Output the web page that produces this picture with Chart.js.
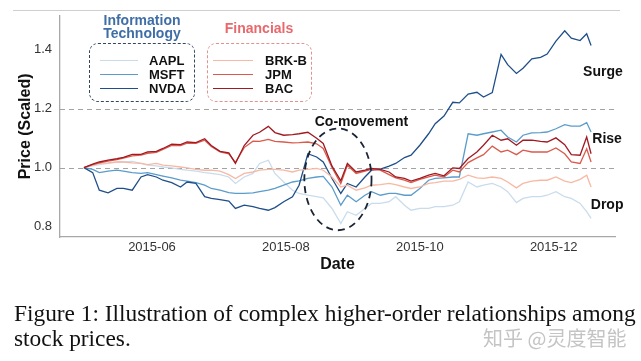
<!DOCTYPE html>
<html><head><meta charset="utf-8">
<script src="https://cdn.jsdelivr.net/npm/chart.js@4.4.1/dist/chart.umd.min.js"></script>
<style>
html,body{margin:0;padding:0;background:#fff;}
#wrap{position:relative;width:641px;height:361px;overflow:hidden;background:#fff;font-family:"Liberation Sans",Arial,sans-serif;}
#c{position:absolute;left:0;top:0;}
.abs{position:absolute;white-space:nowrap;}
#topline{position:absolute;left:13px;top:10px;width:607px;height:0;border-top:1px solid #cfcfcf;}
.box{position:absolute;border-radius:9px;box-sizing:border-box;}
.gtitle{position:absolute;font-weight:bold;font-size:14px;line-height:13px;text-align:center;transform:translate(-50%,-50%);}
.lab{position:absolute;font-weight:bold;font-size:13px;color:#111;transform:translateY(-50%);}
.swatch{position:absolute;height:0;}
.cap{position:absolute;left:14px;font-family:"Liberation Serif","Times New Roman",serif;font-size:23px;color:#111;white-space:nowrap;line-height:26px;transform:translateY(-50%);}
#wm{position:absolute;left:483px;top:338px;transform:translateY(-50%);font-family:"Noto Sans CJK SC",sans-serif;font-size:20px;color:#c4c4c4;white-space:nowrap;line-height:24px;}
</style></head><body>
<div id="wrap">
<canvas id="c" width="641" height="361"></canvas>
<div id="topline"></div>
<div id="legend"></div>
<div class="cap" id="cap1" style="top:313px">Figure 1: Illustration of complex higher-order relationships among</div>
<div class="cap" id="cap2" style="top:338px">stock prices.</div>
<div id="wm">知乎 @灵度智能</div>
</div>
<script>
// ---------------- data ----------------
const dates = ['2015-05-01','2015-05-05','2015-05-08','2015-05-12','2015-05-16','2015-05-19','2015-05-23','2015-05-27','2015-05-30',
 '2015-06-03','2015-06-06','2015-06-10','2015-06-14','2015-06-17','2015-06-21','2015-06-25','2015-06-28',
 '2015-07-02','2015-07-06','2015-07-09','2015-07-13','2015-07-17','2015-07-20','2015-07-24','2015-07-27','2015-07-31',
 '2015-08-04','2015-08-07','2015-08-11','2015-08-15','2015-08-18','2015-08-22','2015-08-26','2015-08-29',
 '2015-09-02','2015-09-06','2015-09-09','2015-09-13','2015-09-17','2015-09-20','2015-09-24','2015-09-27',
 '2015-10-01','2015-10-05','2015-10-08','2015-10-12','2015-10-16','2015-10-19','2015-10-23','2015-10-27','2015-10-30',
 '2015-11-03','2015-11-07','2015-11-10','2015-11-14','2015-11-17','2015-11-21','2015-11-25','2015-11-28',
 '2015-12-02','2015-12-06','2015-12-09','2015-12-13','2015-12-16','2015-12-18'];

const AAPL = [1.000,1.006,1.010,1.014,1.019,1.019,1.021,1.014,1.008,1.006,
 1.002,0.999,0.994,0.991,0.988,0.983,0.980,0.976,0.968,0.946,
 0.968,0.980,1.014,1.025,0.980,0.951,0.923,0.912,0.906,0.901,
 0.897,0.861,0.810,0.850,0.838,0.861,0.878,0.878,0.884,0.901,
 0.872,0.855,0.861,0.861,0.867,0.867,0.872,0.884,0.951,0.934,
 0.940,0.946,0.934,0.918,0.881,0.895,0.901,0.901,0.906,0.918,
 0.901,0.895,0.878,0.850,0.827];

const MSFT = [1.000,0.994,0.983,0.988,0.991,0.988,0.983,0.980,0.983,0.976,
 0.971,0.965,0.957,0.954,0.949,0.940,0.929,0.923,0.915,0.912,
 0.912,0.914,0.918,0.923,0.929,0.940,0.951,0.955,0.963,0.968,
 0.970,0.934,0.872,0.906,0.884,0.906,0.918,0.906,0.912,0.912,
 0.906,0.906,0.929,0.957,0.963,0.965,0.968,0.968,1.115,1.110,
 1.115,1.121,1.127,1.104,1.087,1.110,1.118,1.119,1.121,1.132,
 1.146,1.141,1.141,1.153,1.121];

const NVDA = [1.000,0.983,0.923,0.914,0.929,0.929,0.923,0.968,0.976,0.968,
 0.957,0.949,0.934,0.951,0.946,0.901,0.895,0.891,0.886,0.861,
 0.872,0.867,0.861,0.855,0.864,0.884,0.901,0.940,1.047,1.036,
 1.019,0.963,0.912,0.946,0.934,0.968,0.991,0.995,1.005,1.014,
 1.034,1.042,1.076,1.115,1.149,1.175,1.222,1.220,1.250,1.256,
 1.240,1.255,1.385,1.350,1.320,1.338,1.370,1.375,1.386,1.430,
 1.465,1.440,1.432,1.455,1.415];

const BRKB = [1.000,1.008,1.014,1.016,1.019,1.019,1.016,1.014,1.010,1.014,
 1.008,1.006,1.002,0.999,0.994,0.991,0.991,0.988,0.976,0.963,
 0.980,0.985,0.991,0.994,0.994,0.991,0.985,0.991,0.994,0.997,
 0.991,0.968,0.934,0.940,0.923,0.931,0.940,0.942,0.946,0.942,
 0.934,0.929,0.934,0.946,0.949,0.954,0.954,0.960,0.974,0.965,
 0.963,0.968,0.963,0.951,0.931,0.946,0.954,0.957,0.957,0.968,
 0.954,0.949,0.960,0.974,0.934];

const JPM = [1.000,1.010,1.016,1.022,1.027,1.032,1.040,1.042,1.048,1.052,
 1.062,1.075,1.075,1.083,1.082,1.093,1.072,1.053,1.047,1.018,
 1.068,1.090,1.089,1.096,1.089,1.087,1.084,1.085,1.087,1.081,
 1.065,1.000,0.945,1.008,0.980,0.988,0.994,0.991,0.976,0.965,
 0.957,0.949,0.960,0.968,0.974,0.968,0.991,0.985,1.017,1.033,
 1.044,1.073,1.053,1.059,1.044,1.059,1.053,1.053,1.053,1.067,
 1.047,1.019,1.014,1.064,1.019];

const BAC = [1.000,1.012,1.019,1.025,1.030,1.035,1.045,1.045,1.053,1.055,
 1.065,1.080,1.078,1.087,1.085,1.098,1.075,1.055,1.050,1.014,
 1.075,1.110,1.120,1.140,1.119,1.110,1.112,1.115,1.120,1.100,
 1.082,1.005,0.955,1.014,0.985,0.991,0.997,0.994,0.985,0.968,
 0.963,0.954,0.963,0.974,0.980,0.972,0.999,0.997,1.031,1.053,
 1.076,1.110,1.093,1.098,1.076,1.093,1.093,1.089,1.087,1.101,
 1.078,1.044,1.042,1.104,1.047];

const xTickDates = ['2015-06-01','2015-08-01','2015-10-01','2015-12-01'];
const xTickLabels = ['2015-06','2015-08','2015-10','2015-12'];
const yTickValues = [0.8, 1.0, 1.2, 1.4];
const refLines = [1.0, 1.2];

const groups = [
  {title:['Information','Technology'], color:'#3f6ea6', border:'#34465e', names:['AAPL','MSFT','NVDA'], colors:['#c9dcec','#5b9ccb','#1f4f8a']},
  {title:['Financials'], color:'#e8686b', border:'#e39090', names:['BRK-B','JPM','BAC'], colors:['#f7b9a3','#db5a4c','#a01a22']}
];
const seriesData = {AAPL, MSFT, NVDA, 'BRK-B': BRKB, JPM, BAC};

// ---------------- helpers ----------------
const T0 = Date.UTC(2015,4,1);
function dayOf(s){const p=s.split('-').map(Number);return (Date.UTC(p[0],p[1]-1,p[2])-T0)/86400000;}
const xs = dates.map(dayOf);
const xTicks = xTickDates.map(dayOf);

const order = {AAPL:5, MSFT:4, NVDA:3, 'BRK-B':2, JPM:1, BAC:0};
const datasets = [];
groups.forEach(g => g.names.forEach((n,i) => {
  datasets.push({label:n, data: seriesData[n].map((v,k)=>({x:xs[k], y:v})),
    borderColor:g.colors[i], borderWidth:1.3, pointRadius:0, tension:0, fill:false, order:order[n]});
}));

// annotations (data coordinates: x = days since 2015-05-01)
const labelsAnn = [
  {text:'Surge', x:236.4, y:1.326},
  {text:'Rise', x:238.3, y:1.096},
  {text:'Drop', x:238.3, y:0.872},
  {text:'Co-movement', x:126.4, y:1.155}
];
const comoveEllipse = {x:115.7, y:0.960, rx:15.3, ry:0.173};

const annPlugin = {
  id:'ann',
  beforeDatasetsDraw(chart){
    const {ctx, chartArea:a, scales:{x,y}} = chart;
    ctx.save();
    ctx.strokeStyle = '#a3a3a3'; ctx.lineWidth = 1; ctx.setLineDash([5,4]);
    refLines.forEach(v => { const py = Math.round(y.getPixelForValue(v))+0.5;
      ctx.beginPath(); ctx.moveTo(a.left, py); ctx.lineTo(a.right, py); ctx.stroke(); });
    ctx.restore();
  },
  afterDraw(chart){
    const {ctx, scales:{x,y}} = chart;
    ctx.save();
    const cx = x.getPixelForValue(comoveEllipse.x), cy = y.getPixelForValue(comoveEllipse.y);
    const rx = x.getPixelForValue(comoveEllipse.x+comoveEllipse.rx) - cx;
    const ry = cy - y.getPixelForValue(comoveEllipse.y+comoveEllipse.ry);
    ctx.strokeStyle = '#1b2435'; ctx.lineWidth = 1.8; ctx.setLineDash([7,5]);
    ctx.beginPath(); ctx.ellipse(cx, cy, rx, ry, 0, 0, Math.PI*2); ctx.stroke();
    ctx.setLineDash([]);
    ctx.fillStyle = '#111'; ctx.font = 'bold 14px "Liberation Sans", Arial, sans-serif';
    ctx.textAlign = 'center'; ctx.textBaseline = 'middle';
    labelsAnn.forEach(l => ctx.fillText(l.text, x.getPixelForValue(l.x), y.getPixelForValue(l.y)));
    ctx.restore();
  }
};

new Chart(document.getElementById('c'), {
  type:'line',
  data:{datasets},
  options:{
    responsive:false, animation:false, devicePixelRatio:1,
    layout:{padding:{left:0, right:26, top:15, bottom:84}},
    plugins:{legend:{display:false}, tooltip:{enabled:false}},
    scales:{
      x:{type:'linear', min:-10.9, max:241.9,
        grid:{display:false, drawTicks:false},
        border:{display:true, color:'#a8a8a8', width:1.3},
        afterBuildTicks(s){ s.ticks = xTicks.map(v=>({value:v})); },
        afterFit(s){ s.height = 40; },
        ticks:{autoSkip:false, maxRotation:0, padding:3, color:'#333', font:{family:'"Liberation Sans", Arial, sans-serif', size:13},
          callback:(v)=>{ const i = xTicks.indexOf(v); return i>=0 ? xTickLabels[i] : ''; }},
        title:{display:true, text:'Date', color:'#111', font:{family:'"Liberation Sans", Arial, sans-serif', size:16, weight:'bold'}, padding:{top:0,bottom:3}}
      },
      y:{type:'linear', min:0.764, max:1.516,
        grid:{display:false, drawTicks:false},
        border:{display:true, color:'#a8a8a8', width:1.3},
        afterBuildTicks(s){ s.ticks = yTickValues.map(v=>({value:v})); },
        afterFit(s){ s.width = 60; },
        ticks:{padding:8, color:'#333', font:{family:'"Liberation Sans", Arial, sans-serif', size:13},
          callback:(v)=>Number(v).toFixed(1)},
        title:{display:true, text:'Price (Scaled)', color:'#111', font:{family:'"Liberation Sans", Arial, sans-serif', size:16, weight:'bold'}, padding:16}
      }
    }
  },
  plugins:[annPlugin]
});

// ---------------- legend (HTML) ----------------
const leg = document.getElementById('legend');
const boxes = [{left:89, top:43, w:106, h:59, tx:142, ty:[20,33], lx:100, lw:38, labx:149},
               {left:207, top:43, w:105, h:59, tx:259, ty:[28], lx:213, lw:40, labx:265}];
const rowsY = [60, 74, 88];
groups.forEach((g,gi) => {
  const b = boxes[gi];
  const box = document.createElement('div'); box.className='box';
  Object.assign(box.style,{left:b.left+'px', top:b.top+'px', width:b.w+'px', height:b.h+'px', border:'1.3px dashed '+g.border});
  leg.appendChild(box);
  g.title.forEach((t,ti) => { const d=document.createElement('div'); d.className='gtitle'; d.textContent=t;
    Object.assign(d.style,{left:b.tx+'px', top:b.ty[ti]+'px', color:g.color}); leg.appendChild(d); });
  g.names.forEach((n,i) => {
    const s=document.createElement('div'); s.className='swatch';
    Object.assign(s.style,{left:b.lx+'px', top:(rowsY[i]-0.5)+'px', width:b.lw+'px', borderTop:'1.4px solid '+g.colors[i]});
    leg.appendChild(s);
    const l=document.createElement('div'); l.className='lab'; l.textContent=n;
    Object.assign(l.style,{left:b.labx+'px', top:rowsY[i]+'px'}); leg.appendChild(l);
  });
});

// fit caption first line to its width in the figure
(function(){
  const c1 = document.getElementById('cap1'), c2 = document.getElementById('cap2');
  const w = c1.getBoundingClientRect().width;
  if (w > 0) { const fs = 23 * 622 / w; c1.style.fontSize = fs + 'px'; c2.style.fontSize = fs + 'px'; }
})();
</script>
</body></html>
